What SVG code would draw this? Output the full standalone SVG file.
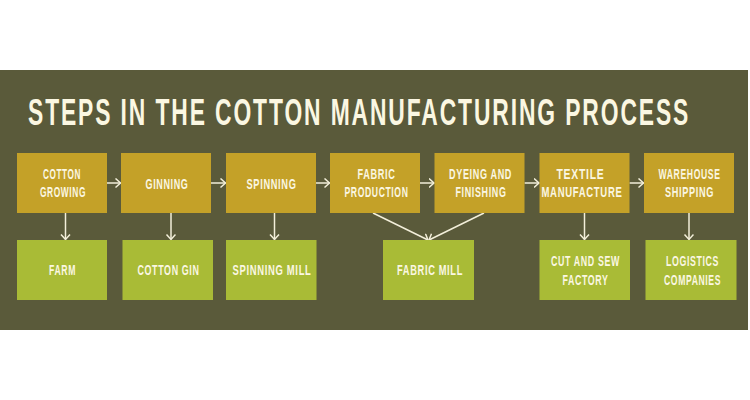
<svg xmlns="http://www.w3.org/2000/svg" width="750" height="400" viewBox="0 0 750 400">
<style>
.bg{fill:#5a5a3a}
.step{fill:#c4a128}
.place{fill:#a9bb36}
.t{font-family:"Liberation Sans",Arial,sans-serif;font-weight:bold;font-size:14px;fill:#fbf7e2;text-anchor:middle;letter-spacing:1px}
.title{font-family:"Liberation Sans",Arial,sans-serif;font-weight:bold;font-size:36px;fill:#fbf7e2;letter-spacing:3px}
.c{stroke:#f3efda;stroke-width:1.5;fill:none;marker-end:url(#ah)}
</style>
<defs>
<marker id="ah" markerUnits="userSpaceOnUse" markerWidth="8" markerHeight="12" refX="5.5" refY="5" orient="auto">
<path d="M0.5,0.5 L5.5,5 L0.5,9.5" fill="none" stroke="#f3efda" stroke-width="1.5"/>
</marker>
</defs>
<rect width="750" height="400" fill="#ffffff"/>
<rect class="bg" x="0" y="70" width="748" height="260"/>
<text class="title" transform="translate(28 0) scale(0.62 1)" x="0" y="125" textLength="1068" lengthAdjust="spacingAndGlyphs">STEPS IN THE COTTON MANUFACTURING PROCESS</text>

<g id="connectors">
<line class="c" x1="107" y1="183" x2="120.5" y2="183"/>
<line class="c" x1="211" y1="183" x2="225.5" y2="183"/>
<line class="c" x1="316" y1="183" x2="329.5" y2="183"/>
<line class="c" x1="420" y1="183" x2="434" y2="183"/>
<line class="c" x1="524.5" y1="183" x2="539" y2="183"/>
<line class="c" x1="629.5" y1="183" x2="643.5" y2="183"/>
<line class="c" x1="65.5" y1="213" x2="65.5" y2="239.5"/>
<line class="c" x1="171" y1="213" x2="171" y2="239.5"/>
<line class="c" x1="274.5" y1="213" x2="274.5" y2="239.5"/>
<line class="c" x1="373" y1="213" x2="428" y2="240"/>
<line class="c" x1="484" y1="213" x2="429" y2="240"/>
<line class="c" x1="584.5" y1="213" x2="584.5" y2="239.5"/>
<line class="c" x1="689" y1="213" x2="689" y2="239.5"/>
</g>

<g id="cotton-growing"><rect class="step" x="17" y="153" width="90" height="60"/>
<text class="t" transform="translate(62 0) scale(0.6 1)" x="0" y="179.5" textLength="63.3" lengthAdjust="spacingAndGlyphs">COTTON</text>
<text class="t" transform="translate(63 0) scale(0.6 1)" x="0" y="197.5" textLength="76.7" lengthAdjust="spacingAndGlyphs">GROWING</text></g>
<g id="ginning"><rect class="step" x="121" y="153" width="90" height="60"/>
<text class="t" transform="translate(167 0) scale(0.6 1)" x="0" y="189" textLength="71.7" lengthAdjust="spacingAndGlyphs">GINNING</text></g>
<g id="spinning"><rect class="step" x="226" y="153" width="90" height="60"/>
<text class="t" transform="translate(271.5 0) scale(0.6 1)" x="0" y="189" textLength="83.3" lengthAdjust="spacingAndGlyphs">SPINNING</text></g>
<g id="fabric-production"><rect class="step" x="330" y="153" width="90" height="60"/>
<text class="t" transform="translate(376.5 0) scale(0.6 1)" x="0" y="179.5" textLength="63.3" lengthAdjust="spacingAndGlyphs">FABRIC</text>
<text class="t" transform="translate(376.5 0) scale(0.6 1)" x="0" y="197.5" textLength="106.7" lengthAdjust="spacingAndGlyphs">PRODUCTION</text></g>
<g id="dyeing-finishing"><rect class="step" x="434.5" y="153" width="90" height="60"/>
<text class="t" transform="translate(480.5 0) scale(0.6 1)" x="0" y="179.5" textLength="105" lengthAdjust="spacingAndGlyphs">DYEING AND</text>
<text class="t" transform="translate(481 0) scale(0.6 1)" x="0" y="197.5" textLength="85" lengthAdjust="spacingAndGlyphs">FINISHING</text></g>
<g id="textile-manufacture"><rect class="step" x="539.5" y="153" width="90" height="60"/>
<text class="t" transform="translate(580.5 0) scale(0.6 1)" x="0" y="179.5" textLength="80" lengthAdjust="spacingAndGlyphs">TEXTILE</text>
<text class="t" transform="translate(582 0) scale(0.6 1)" x="0" y="197.5" textLength="135" lengthAdjust="spacingAndGlyphs">MANUFACTURE</text></g>
<g id="warehouse-shipping"><rect class="step" x="644" y="153" width="90" height="60"/>
<text class="t" transform="translate(689.5 0) scale(0.6 1)" x="0" y="179.5" textLength="103.3" lengthAdjust="spacingAndGlyphs">WAREHOUSE</text>
<text class="t" transform="translate(689.5 0) scale(0.6 1)" x="0" y="197.5" textLength="81.7" lengthAdjust="spacingAndGlyphs">SHIPPING</text></g>

<g id="farm"><rect class="place" x="17" y="240" width="90" height="60"/>
<text class="t" transform="translate(62.5 0) scale(0.6 1)" x="0" y="275.5" textLength="45" lengthAdjust="spacingAndGlyphs">FARM</text></g>
<g id="cotton-gin"><rect class="place" x="122.5" y="240" width="90.5" height="60"/>
<text class="t" transform="translate(168.5 0) scale(0.6 1)" x="0" y="275.5" textLength="103.3" lengthAdjust="spacingAndGlyphs">COTTON GIN</text></g>
<g id="spinning-mill"><rect class="place" x="226" y="240" width="90.5" height="60"/>
<text class="t" transform="translate(272 0) scale(0.6 1)" x="0" y="275.5" textLength="131.7" lengthAdjust="spacingAndGlyphs">SPINNING MILL</text></g>
<g id="fabric-mill"><rect class="place" x="383" y="240" width="91" height="60"/>
<text class="t" transform="translate(430 0) scale(0.6 1)" x="0" y="275.5" textLength="110" lengthAdjust="spacingAndGlyphs">FABRIC MILL</text></g>
<g id="cut-and-sew"><rect class="place" x="539.5" y="240" width="90.5" height="60"/>
<text class="t" transform="translate(585.5 0) scale(0.6 1)" x="0" y="266.5" textLength="115" lengthAdjust="spacingAndGlyphs">CUT AND SEW</text>
<text class="t" transform="translate(585.5 0) scale(0.6 1)" x="0" y="285.5" textLength="76.7" lengthAdjust="spacingAndGlyphs">FACTORY</text></g>
<g id="logistics"><rect class="place" x="645.5" y="240" width="91" height="60"/>
<text class="t" transform="translate(692.5 0) scale(0.6 1)" x="0" y="266.5" textLength="88.3" lengthAdjust="spacingAndGlyphs">LOGISTICS</text>
<text class="t" transform="translate(692.5 0) scale(0.6 1)" x="0" y="285.5" textLength="95" lengthAdjust="spacingAndGlyphs">COMPANIES</text></g>
</svg>
